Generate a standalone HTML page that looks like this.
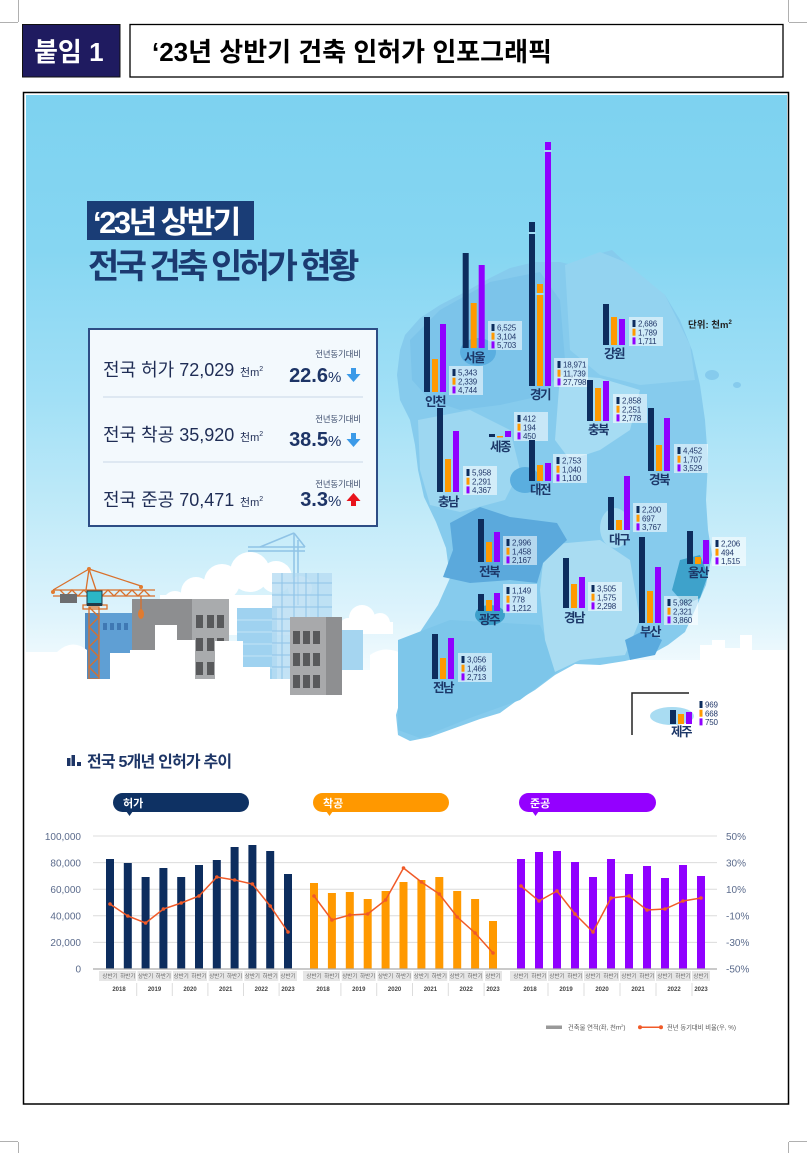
<!DOCTYPE html>
<html><head><meta charset="utf-8">
<style>
html,body{margin:0;padding:0;background:#fff;}
body{width:807px;height:1153px;overflow:hidden;}
svg{display:block;}
text{font-family:"Liberation Sans","Noto Sans CJK KR",sans-serif;}
.n{fill:#0d2d5e}.o{fill:#ff9900}.p{fill:#9000ff}
.mv{font-size:8px;fill:#22386a;letter-spacing:-0.2px}
.rn{font-size:12.5px;font-weight:700;fill:#1c3768;letter-spacing:-1.5px;text-anchor:middle}
.ax{font-size:10px;fill:#5b6b8c}
.hl{font-size:5.5px;fill:#666;text-anchor:middle}
.yr{font-size:6px;font-weight:700;fill:#444;text-anchor:middle}
</style></head>
<body>
<svg width="807" height="1153" viewBox="0 0 807 1153" xmlns="http://www.w3.org/2000/svg">
<defs>
<linearGradient id="bg" gradientUnits="userSpaceOnUse" x1="0" y1="95" x2="0" y2="1102">
<stop offset="0" stop-color="#7dd2f0"/>
<stop offset="0.154" stop-color="#86d6f2"/>
<stop offset="0.303" stop-color="#a2e0f6"/>
<stop offset="0.422" stop-color="#c3ebf9"/>
<stop offset="0.521" stop-color="#dff4fc"/>
<stop offset="0.6" stop-color="#ffffff"/>
<stop offset="1" stop-color="#ffffff"/>
</linearGradient>
<clipPath id="ic"><rect x="26" y="95" width="761" height="1007"/></clipPath>
</defs>

<!-- corner marks -->
<g stroke="#b0b0b0" stroke-width="1">
<line x1="18.5" y1="0" x2="18.5" y2="22"/><line x1="0" y1="22.5" x2="18" y2="22.5"/>
<line x1="788.5" y1="0" x2="788.5" y2="22"/><line x1="789" y1="22.5" x2="807" y2="22.5"/>
<line x1="18.5" y1="1142" x2="18.5" y2="1153"/><line x1="0" y1="1141.5" x2="18" y2="1141.5"/>
<line x1="788.5" y1="1142" x2="788.5" y2="1153"/><line x1="789" y1="1141.5" x2="807" y2="1141.5"/>
</g>

<!-- header -->
<rect x="22.5" y="24.5" width="97.5" height="52.5" fill="#1f1b60" stroke="#111" stroke-width="1"/>
<text x="34" y="61" font-size="26" font-weight="700" fill="#fff">붙임 1</text>
<rect x="130" y="24.5" width="653" height="52.5" fill="#fff" stroke="#000" stroke-width="1.3"/>
<text x="152" y="61" font-size="26" font-weight="700" fill="#000">‘23년 상반기 건축 인허가 인포그래픽</text>

<!-- frame -->
<rect x="23.5" y="92.5" width="765" height="1011.5" fill="#fff" stroke="#000" stroke-width="1.5"/>

<g clip-path="url(#ic)">
<rect x="26" y="95" width="761" height="1007" fill="url(#bg)"/>

<!-- title -->
<rect x="87" y="201" width="167" height="39" fill="#1a3d76"/>
<text x="93" y="233" font-size="31" font-weight="700" fill="#fff" letter-spacing="-2.5">‘23년 상반기</text>
<text x="88" y="278" font-size="34" font-weight="700" fill="#1b3a70" letter-spacing="-3.5">전국 건축 인허가 현황</text>

<!-- stats box -->
<rect x="89" y="329" width="288" height="197" fill="#f3f9fd" stroke="#2d4d85" stroke-width="2"/>
<line x1="103" y1="397" x2="363" y2="397" stroke="#c8d6e6" stroke-width="1"/>
<line x1="103" y1="462" x2="363" y2="462" stroke="#c8d6e6" stroke-width="1"/>
<g fill="#1f2d55">
<text x="103" y="376" font-size="18">전국 허가 72,029</text>
<text x="240" y="376" font-size="11">천m<tspan font-size="7" dy="-5">2</tspan></text>
<text x="103" y="441" font-size="18">전국 착공 35,920</text>
<text x="240" y="441" font-size="11">천m<tspan font-size="7" dy="-5">2</tspan></text>
<text x="103" y="506" font-size="18">전국 준공 70,471</text>
<text x="240" y="506" font-size="11">천m<tspan font-size="7" dy="-5">2</tspan></text>
</g>
<g font-size="8.3" fill="#3a4a6a" text-anchor="end">
<text x="361" y="357">전년동기대비</text>
<text x="361" y="422">전년동기대비</text>
<text x="361" y="487">전년동기대비</text>
</g>
<g fill="#1d3466">
<text x="328" y="382" font-size="20" font-weight="700" text-anchor="end">22.6</text><text x="328" y="382" font-size="15">%</text>
<text x="328" y="446" font-size="20" font-weight="700" text-anchor="end">38.5</text><text x="328" y="446" font-size="15">%</text>
<text x="328" y="506" font-size="20" font-weight="700" text-anchor="end">3.3</text><text x="328" y="506" font-size="15">%</text>
</g>
<g fill="#3b9ae8">
<rect x="351" y="368" width="5" height="7"/><polygon points="346.5,374 360.5,374 353.5,382"/>
<rect x="351" y="433" width="5" height="7"/><polygon points="346.5,439 360.5,439 353.5,447"/>
</g>
<g fill="#e8141c">
<polygon points="353.5,493 346.5,501 360.5,501"/><rect x="351" y="500" width="5" height="6"/>
</g>

<!-- cityscape background clouds -->
<g fill="#fff">
<circle cx="175" cy="603" r="12"/><circle cx="196" cy="592" r="15"/><circle cx="222" cy="582" r="18"/>
<circle cx="250" cy="572" r="20"/><circle cx="276" cy="577" r="16"/><circle cx="300" cy="588" r="12"/>
<rect x="160" y="595" width="150" height="40"/>
<circle cx="362" cy="618" r="13"/><circle cx="380" cy="623" r="10"/><circle cx="348" cy="626" r="8"/>
<rect x="340" y="622" width="53" height="12"/>
</g>
<!-- crane 2 -->
<g stroke="#8fc3e6" stroke-width="1.5" fill="none">
<line x1="294" y1="533" x2="294" y2="605"/><line x1="298" y1="540" x2="298" y2="605"/>
<line x1="248" y1="547" x2="305" y2="547"/><line x1="248" y1="551" x2="305" y2="551"/>
<line x1="294" y1="533" x2="260" y2="547"/><line x1="294" y1="533" x2="305" y2="547"/>
</g>
<!-- light buildings -->
<rect x="237" y="608" width="40" height="82" fill="#9fd2f0"/>
<g stroke="#c3e4f6" stroke-width="1"><line x1="237" y1="620" x2="277" y2="620"/><line x1="237" y1="632" x2="277" y2="632"/><line x1="237" y1="644" x2="277" y2="644"/><line x1="237" y1="656" x2="277" y2="656"/><line x1="237" y1="668" x2="277" y2="668"/></g>
<rect x="272" y="573" width="60" height="117" fill="#b7dcf3" fill-opacity="0.8"/>
<g stroke="#8ec3e8" stroke-width="1">
<line x1="272" y1="583" x2="332" y2="583"/><line x1="272" y1="595" x2="332" y2="595"/><line x1="272" y1="607" x2="332" y2="607"/><line x1="272" y1="619" x2="332" y2="619"/><line x1="272" y1="631" x2="332" y2="631"/><line x1="272" y1="643" x2="332" y2="643"/><line x1="272" y1="655" x2="332" y2="655"/><line x1="272" y1="667" x2="332" y2="667"/>
<line x1="282" y1="573" x2="282" y2="690"/><line x1="294" y1="573" x2="294" y2="690"/><line x1="306" y1="573" x2="306" y2="690"/><line x1="318" y1="573" x2="318" y2="690"/>
</g>
<rect x="342" y="630" width="21" height="60" fill="#a5d5f0"/>
<!-- blue building -->
<rect x="85" y="613" width="48" height="72" fill="#5f9fd4"/>
<rect x="85" y="613" width="14" height="72" fill="#4f8cc4"/>
<g fill="#3f78b3"><rect x="103" y="623" width="4" height="7"/><rect x="110" y="623" width="4" height="7"/><rect x="117" y="623" width="4" height="7"/><rect x="124" y="623" width="4" height="7"/></g>
<!-- gray building 1 -->
<rect x="132" y="599" width="60" height="80" fill="#8d8e90"/>
<rect x="192" y="599" width="37" height="80" fill="#a9abad"/>
<g fill="#58595b">
<rect x="196" y="615" width="7" height="13"/><rect x="207" y="615" width="7" height="13"/><rect x="217" y="615" width="7" height="13"/>
<rect x="196" y="638" width="7" height="13"/><rect x="207" y="638" width="7" height="13"/><rect x="217" y="638" width="7" height="13"/>
<rect x="196" y="662" width="7" height="13"/><rect x="207" y="662" width="7" height="13"/>
</g>
<!-- gray building 2 -->
<rect x="290" y="617" width="36" height="78" fill="#a8a9ab"/>
<rect x="326" y="617" width="16" height="78" fill="#8e8f91"/>
<g fill="#58595b">
<rect x="293" y="631" width="7" height="13"/><rect x="303" y="631" width="7" height="13"/><rect x="313" y="631" width="7" height="13"/>
<rect x="293" y="653" width="7" height="13"/><rect x="303" y="653" width="7" height="13"/><rect x="313" y="653" width="7" height="13"/>
<rect x="293" y="675" width="7" height="13"/><rect x="303" y="675" width="7" height="13"/><rect x="313" y="675" width="7" height="13"/>
</g>
<!-- crane 1 -->
<g stroke="#d9702b" stroke-width="1.3" fill="none">
<rect x="89" y="607" width="10" height="72"/>
<polyline points="89,607 99,617 89,627 99,637 89,647 99,657 89,667 99,677"/>
<line x1="53" y1="590" x2="155" y2="590"/><line x1="53" y1="596" x2="155" y2="596"/>
<polyline points="60,590 66,596 72,590 78,596 84,590 90,596 96,590 102,596 108,590 114,596 120,590 126,596 132,590 138,596 144,590 150,596"/>
<line x1="89" y1="569" x2="53" y2="590"/><line x1="89" y1="569" x2="141" y2="586"/>
<line x1="89" y1="569" x2="86" y2="590"/><line x1="89" y1="569" x2="96" y2="590"/>
<rect x="83" y="605" width="24" height="4"/>
<line x1="141" y1="596" x2="141" y2="610"/>
</g>
<g fill="#e07b30"><circle cx="89" cy="569" r="2"/><circle cx="53" cy="592" r="2"/><circle cx="141" cy="587" r="2"/><ellipse cx="141" cy="614" rx="3" ry="5"/></g>
<rect x="60" y="594" width="17" height="9" fill="#6d6e70"/>
<rect x="87" y="591" width="15" height="14" fill="#2bb6c6" stroke="#1f3a4a" stroke-width="1"/>
<rect x="87" y="603" width="15" height="3" fill="#1f3a4a"/>

<!-- white foreground skyline -->
<path d="M26,652 L57,652 Q72,638 87,650 L87,679 L110,679 L110,653 L130,653 L130,650 L155,650 L155,625 L177,625 L177,640 L195,640 L195,679 L215,679 L215,641 L243,641 L243,667 L270,667 L270,679 L290,679 L290,697 L342,697 L342,670 L370,670 L370,655 Q385,644 405,655 L410,660 L700,660 L700,645 L712,645 L712,640 L725,640 L725,648 L740,648 L740,635 L752,635 L752,650 L787,650 L787,1102 L26,1102 Z" fill="#fff"/>

<!-- map land -->
<path d="M400,350 L405,335 L420,318 L440,305 L465,292 L490,278 L510,268 L535,262 L560,262 L585,268 L598,254 L612,250 L625,262 L645,280 L665,295 L680,320 L692,350 L700,385 L705,420 L708,460 L706,500 L708,530 L712,555 L706,585 L695,610 L685,632 L668,645 L650,655 L625,661 L600,665 L575,664 L555,675 L535,690 L515,702 L500,713 L480,719 L455,728 L430,737 L410,741 L398,735 L396,715 L403,690 L405,660 L420,632 L438,605 L450,578 L446,548 L436,522 L424,497 L418,470 L415,445 L410,420 L400,400 L397,375 Z" fill="#86cbed"/>
<path d="M410,340 L440,310 L490,282 L540,272 L560,300 L565,360 L545,395 L500,405 L460,410 L430,400 L412,380 Z" fill="#7cc4ea"/>
<path d="M565,265 L600,252 L625,262 L665,295 L690,345 L695,380 L640,385 L600,375 L570,350 Z" fill="#93d3f0"/>
<path d="M560,375 L600,378 L640,390 L630,430 L600,450 L570,460 L555,440 Z" fill="#a6dcf3"/>
<path d="M418,420 L470,410 L510,430 L520,470 L505,500 L460,512 L430,505 L420,470 Z" fill="#9dd7f1"/>
<path d="M398,640 L450,620 L540,625 L560,670 L520,700 L470,718 L420,738 L398,730 Z" fill="#7dc6ea"/>
<path d="M545,545 L600,540 L630,560 L640,620 L625,655 L580,660 L555,672 L545,640 L540,590 Z" fill="#a9dcf2"/>
<path d="M450,523 L480,507 L510,517 L557,523 L567,540 L543,563 L537,583 L510,580 L470,583 L443,577 L453,550 Z" fill="#5ba9dc"/>
<ellipse cx="478" cy="352" rx="18" ry="14" fill="#5aaee0"/>
<ellipse cx="525" cy="480" rx="15" ry="13" fill="#5aaedf"/>
<ellipse cx="615" cy="528" rx="15" ry="20" fill="#a7dcf2"/>
<ellipse cx="490" cy="615" rx="15" ry="10" fill="#3c9fca"/>
<path d="M680,560 L700,555 L708,575 L700,598 L685,605 L672,590 Z" fill="#3ea2cb"/>
<path d="M625,640 L645,630 L662,640 L655,655 L630,660 Z" fill="#5aaade"/>
<ellipse cx="712" cy="375" rx="7" ry="5" fill="#86cbed"/>
<ellipse cx="737" cy="385" rx="4" ry="3" fill="#86cbed"/>
<ellipse cx="672" cy="716" rx="22" ry="9" fill="#a9dcf2"/>
<polyline points="689,693 632,693 632,735" fill="none" stroke="#222" stroke-width="1.5"/>

<text x="688" y="328" font-size="9.5" font-weight="700" fill="#222">단위: 천m<tspan font-size="6" dy="-4">2</tspan></text>

<!-- regional bars -->
<!-- 서울 -->
<rect class="n" x="462.7" y="253" width="6" height="95"/><rect class="o" x="470.7" y="303" width="6" height="45"/><rect class="p" x="478.7" y="265" width="6" height="83"/>
<g transform="translate(488,321)"><rect width="34" height="29" fill="#fff" fill-opacity=".55"/><rect class="n" x="3.5" y="3" width="3" height="7"/><rect class="o" x="3.5" y="11.7" width="3" height="7"/><rect class="p" x="3.5" y="20.4" width="3" height="7"/><text class="mv" x="9" y="9.6">6,525</text><text class="mv" x="9" y="18.3">3,104</text><text class="mv" x="9" y="27">5,703</text></g>
<text class="rn" x="474" y="362">서울</text>
<!-- 인천 -->
<rect class="n" x="424" y="317" width="6" height="75"/><rect class="o" x="432" y="359" width="6" height="33"/><rect class="p" x="440" y="324" width="6" height="68"/>
<g transform="translate(449,366)"><rect width="34" height="29" fill="#fff" fill-opacity=".55"/><rect class="n" x="3.5" y="3" width="3" height="7"/><rect class="o" x="3.5" y="11.7" width="3" height="7"/><rect class="p" x="3.5" y="20.4" width="3" height="7"/><text class="mv" x="9" y="9.6">5,343</text><text class="mv" x="9" y="18.3">2,339</text><text class="mv" x="9" y="27">4,744</text></g>
<text class="rn" x="435" y="406">인천</text>
<!-- 경기 -->
<rect class="n" x="529" y="222" width="6" height="164"/><rect class="o" x="537" y="284" width="6" height="102"/><rect class="p" x="545" y="142" width="6" height="244"/>
<rect x="528" y="232" width="8" height="2" fill="#9fdcf4"/><rect x="536" y="293" width="8" height="2" fill="#9fdcf4"/><rect x="544" y="150" width="8" height="2" fill="#9fdcf4"/>
<g transform="translate(554,358)"><rect width="34" height="29" fill="#fff" fill-opacity=".55"/><rect class="n" x="3.5" y="3" width="3" height="7"/><rect class="o" x="3.5" y="11.7" width="3" height="7"/><rect class="p" x="3.5" y="20.4" width="3" height="7"/><text class="mv" x="9" y="9.6">18,971</text><text class="mv" x="9" y="18.3">11,739</text><text class="mv" x="9" y="27">27,798</text></g>
<text class="rn" x="540" y="399">경기</text>
<!-- 강원 -->
<rect class="n" x="603" y="304" width="6" height="41"/><rect class="o" x="611" y="317" width="6" height="28"/><rect class="p" x="619" y="319" width="6" height="26"/>
<g transform="translate(629,317)"><rect width="34" height="29" fill="#fff" fill-opacity=".55"/><rect class="n" x="3.5" y="3" width="3" height="7"/><rect class="o" x="3.5" y="11.7" width="3" height="7"/><rect class="p" x="3.5" y="20.4" width="3" height="7"/><text class="mv" x="9" y="9.6">2,686</text><text class="mv" x="9" y="18.3">1,789</text><text class="mv" x="9" y="27">1,711</text></g>
<text class="rn" x="614" y="358">강원</text>
<!-- 충북 -->
<rect class="n" x="587" y="380" width="6" height="41"/><rect class="o" x="595" y="388" width="6" height="33"/><rect class="p" x="603" y="381" width="6" height="40"/>
<g transform="translate(613,394)"><rect width="34" height="29" fill="#fff" fill-opacity=".55"/><rect class="n" x="3.5" y="3" width="3" height="7"/><rect class="o" x="3.5" y="11.7" width="3" height="7"/><rect class="p" x="3.5" y="20.4" width="3" height="7"/><text class="mv" x="9" y="9.6">2,858</text><text class="mv" x="9" y="18.3">2,251</text><text class="mv" x="9" y="27">2,778</text></g>
<text class="rn" x="598" y="434">충북</text>
<!-- 세종 -->
<rect class="n" x="489" y="434" width="6" height="3"/><rect class="o" x="497" y="436" width="6" height="1.5"/><rect class="p" x="505" y="431" width="6" height="6"/>
<g transform="translate(514,412)"><rect width="34" height="29" fill="#fff" fill-opacity=".55"/><rect class="n" x="3.5" y="3" width="3" height="7"/><rect class="o" x="3.5" y="11.7" width="3" height="7"/><rect class="p" x="3.5" y="20.4" width="3" height="7"/><text class="mv" x="9" y="9.6">412</text><text class="mv" x="9" y="18.3">194</text><text class="mv" x="9" y="27">450</text></g>
<text class="rn" x="500" y="451">세종</text>
<!-- 대전 -->
<rect class="n" x="529" y="440" width="6" height="41"/><rect class="o" x="537" y="465" width="6" height="16"/><rect class="p" x="545" y="463" width="6" height="18"/>
<g transform="translate(553,454)"><rect width="34" height="29" fill="#fff" fill-opacity=".55"/><rect class="n" x="3.5" y="3" width="3" height="7"/><rect class="o" x="3.5" y="11.7" width="3" height="7"/><rect class="p" x="3.5" y="20.4" width="3" height="7"/><text class="mv" x="9" y="9.6">2,753</text><text class="mv" x="9" y="18.3">1,040</text><text class="mv" x="9" y="27">1,100</text></g>
<text class="rn" x="540" y="494">대전</text>
<!-- 충남 -->
<rect class="n" x="437" y="408" width="6" height="84"/><rect class="o" x="445" y="459" width="6" height="33"/><rect class="p" x="453" y="431" width="6" height="61"/>
<g transform="translate(463,466)"><rect width="34" height="29" fill="#fff" fill-opacity=".55"/><rect class="n" x="3.5" y="3" width="3" height="7"/><rect class="o" x="3.5" y="11.7" width="3" height="7"/><rect class="p" x="3.5" y="20.4" width="3" height="7"/><text class="mv" x="9" y="9.6">5,958</text><text class="mv" x="9" y="18.3">2,291</text><text class="mv" x="9" y="27">4,367</text></g>
<text class="rn" x="448" y="506">충남</text>
<!-- 경북 -->
<rect class="n" x="648" y="408" width="6" height="63"/><rect class="o" x="656" y="445" width="6" height="26"/><rect class="p" x="664" y="418" width="6" height="53"/>
<g transform="translate(674,444)"><rect width="34" height="29" fill="#fff" fill-opacity=".55"/><rect class="n" x="3.5" y="3" width="3" height="7"/><rect class="o" x="3.5" y="11.7" width="3" height="7"/><rect class="p" x="3.5" y="20.4" width="3" height="7"/><text class="mv" x="9" y="9.6">4,452</text><text class="mv" x="9" y="18.3">1,707</text><text class="mv" x="9" y="27">3,529</text></g>
<text class="rn" x="659" y="484">경북</text>
<!-- 대구 -->
<rect class="n" x="608" y="497" width="6" height="33"/><rect class="o" x="616" y="520" width="6" height="10"/><rect class="p" x="624" y="476" width="6" height="54"/>
<g transform="translate(633,503)"><rect width="34" height="29" fill="#fff" fill-opacity=".55"/><rect class="n" x="3.5" y="3" width="3" height="7"/><rect class="o" x="3.5" y="11.7" width="3" height="7"/><rect class="p" x="3.5" y="20.4" width="3" height="7"/><text class="mv" x="9" y="9.6">2,200</text><text class="mv" x="9" y="18.3">697</text><text class="mv" x="9" y="27">3,767</text></g>
<text class="rn" x="619" y="544">대구</text>
<!-- 전북 -->
<rect class="n" x="478" y="519" width="6" height="43"/><rect class="o" x="486" y="542" width="6" height="20"/><rect class="p" x="494" y="532" width="6" height="30"/>
<g transform="translate(503,536)"><rect width="34" height="29" fill="#fff" fill-opacity=".55"/><rect class="n" x="3.5" y="3" width="3" height="7"/><rect class="o" x="3.5" y="11.7" width="3" height="7"/><rect class="p" x="3.5" y="20.4" width="3" height="7"/><text class="mv" x="9" y="9.6">2,996</text><text class="mv" x="9" y="18.3">1,458</text><text class="mv" x="9" y="27">2,167</text></g>
<text class="rn" x="489" y="576">전북</text>
<!-- 울산 -->
<rect class="n" x="687" y="531" width="6" height="33"/><rect class="o" x="695" y="557" width="6" height="7"/><rect class="p" x="703" y="540" width="6" height="24"/>
<g transform="translate(712,537)"><rect width="34" height="29" fill="#fff" fill-opacity=".55"/><rect class="n" x="3.5" y="3" width="3" height="7"/><rect class="o" x="3.5" y="11.7" width="3" height="7"/><rect class="p" x="3.5" y="20.4" width="3" height="7"/><text class="mv" x="9" y="9.6">2,206</text><text class="mv" x="9" y="18.3">494</text><text class="mv" x="9" y="27">1,515</text></g>
<text class="rn" x="698" y="577">울산</text>
<!-- 광주 -->
<rect class="n" x="478" y="594" width="6" height="17"/><rect class="o" x="486" y="600" width="6" height="11"/><rect class="p" x="494" y="593" width="6" height="18"/>
<g transform="translate(503,584)"><rect width="34" height="29" fill="#fff" fill-opacity=".55"/><rect class="n" x="3.5" y="3" width="3" height="7"/><rect class="o" x="3.5" y="11.7" width="3" height="7"/><rect class="p" x="3.5" y="20.4" width="3" height="7"/><text class="mv" x="9" y="9.6">1,149</text><text class="mv" x="9" y="18.3">778</text><text class="mv" x="9" y="27">1,212</text></g>
<text class="rn" x="489" y="624">광주</text>
<!-- 경남 -->
<rect class="n" x="563" y="558" width="6" height="50"/><rect class="o" x="571" y="584" width="6" height="24"/><rect class="p" x="579" y="577" width="6" height="31"/>
<g transform="translate(588,582)"><rect width="34" height="29" fill="#fff" fill-opacity=".55"/><rect class="n" x="3.5" y="3" width="3" height="7"/><rect class="o" x="3.5" y="11.7" width="3" height="7"/><rect class="p" x="3.5" y="20.4" width="3" height="7"/><text class="mv" x="9" y="9.6">3,505</text><text class="mv" x="9" y="18.3">1,575</text><text class="mv" x="9" y="27">2,298</text></g>
<text class="rn" x="574" y="622">경남</text>
<!-- 부산 -->
<rect class="n" x="639" y="537" width="6" height="86"/><rect class="o" x="647" y="591" width="6" height="32"/><rect class="p" x="655" y="567" width="6" height="56"/>
<g transform="translate(664,596)"><rect width="34" height="29" fill="#fff" fill-opacity=".55"/><rect class="n" x="3.5" y="3" width="3" height="7"/><rect class="o" x="3.5" y="11.7" width="3" height="7"/><rect class="p" x="3.5" y="20.4" width="3" height="7"/><text class="mv" x="9" y="9.6">5,982</text><text class="mv" x="9" y="18.3">2,321</text><text class="mv" x="9" y="27">3,860</text></g>
<text class="rn" x="650" y="636">부산</text>
<!-- 전남 -->
<rect class="n" x="432" y="634" width="6" height="45"/><rect class="o" x="440" y="658" width="6" height="21"/><rect class="p" x="448" y="638" width="6" height="41"/>
<g transform="translate(458,653)"><rect width="34" height="29" fill="#fff" fill-opacity=".55"/><rect class="n" x="3.5" y="3" width="3" height="7"/><rect class="o" x="3.5" y="11.7" width="3" height="7"/><rect class="p" x="3.5" y="20.4" width="3" height="7"/><text class="mv" x="9" y="9.6">3,056</text><text class="mv" x="9" y="18.3">1,466</text><text class="mv" x="9" y="27">2,713</text></g>
<text class="rn" x="443" y="692">전남</text>
<!-- 제주 -->
<rect class="n" x="670" y="710" width="6" height="14"/><rect class="o" x="678" y="714" width="6" height="10"/><rect class="p" x="686" y="712" width="6" height="12"/>
<g transform="translate(696,698)"><rect class="n" x="3.5" y="3" width="3" height="7"/><rect class="o" x="3.5" y="11.7" width="3" height="7"/><rect class="p" x="3.5" y="20.4" width="3" height="7"/><text class="mv" x="9" y="9.6">969</text><text class="mv" x="9" y="18.3">668</text><text class="mv" x="9" y="27">750</text></g>
<text class="rn" x="681" y="736">제주</text>

<!-- section title -->
<g fill="#1d3566"><rect x="67" y="758" width="3.5" height="8"/><rect x="71.5" y="755" width="3.5" height="11"/><rect x="77" y="762" width="4" height="4"/></g>
<text x="87" y="767" font-size="16" font-weight="700" fill="#1d3566" letter-spacing="-0.8">전국 5개년 인허가 추이</text>

<!-- pills -->
<rect x="113" y="793" width="136" height="19" rx="9.5" fill="#0e3163"/><polygon points="126,811 133,811 129.5,816" fill="#0e3163"/>
<text x="123" y="807" font-size="11" font-weight="700" fill="#fff">허가</text>
<rect x="313" y="793" width="136" height="19" rx="9.5" fill="#ff9800"/><polygon points="326,811 333,811 329.5,816" fill="#ff9800"/>
<text x="323" y="807" font-size="11" font-weight="700" fill="#fff">착공</text>
<rect x="519" y="793" width="137" height="19" rx="9.5" fill="#9400ff"/><polygon points="532,811 539,811 535.5,816" fill="#9400ff"/>
<text x="530" y="807" font-size="11" font-weight="700" fill="#fff">준공</text>

<!-- grid -->
<g stroke="#dcdcdc" stroke-width="1">
<line x1="93" y1="836" x2="717" y2="836"/><line x1="93" y1="862.6" x2="717" y2="862.6"/><line x1="93" y1="889.2" x2="717" y2="889.2"/><line x1="93" y1="915.8" x2="717" y2="915.8"/><line x1="93" y1="942.4" x2="717" y2="942.4"/>
</g>
<g class="ax" text-anchor="end">
<text class="ax" x="81" y="840">100,000</text><text class="ax" x="81" y="866.5">80,000</text><text class="ax" x="81" y="893">60,000</text><text class="ax" x="81" y="919.5">40,000</text><text class="ax" x="81" y="946">20,000</text><text class="ax" x="81" y="972.5">0</text>
</g>
<g>
<text class="ax" x="726" y="840">50%</text><text class="ax" x="726" y="866.5">30%</text><text class="ax" x="726" y="893">10%</text><text class="ax" x="726" y="919.5">-10%</text><text class="ax" x="726" y="946">-30%</text><text class="ax" x="726" y="972.5">-50%</text>
</g>

<!-- navy bars -->
<g class="n">
<rect x="106" y="859" width="8" height="110"/><rect x="123.8" y="863" width="8" height="106"/><rect x="141.6" y="877" width="8" height="92"/><rect x="159.4" y="868" width="8" height="101"/><rect x="177.2" y="877" width="8" height="92"/><rect x="195" y="865" width="8" height="104"/><rect x="212.8" y="860" width="8" height="109"/><rect x="230.6" y="847" width="8" height="122"/><rect x="248.4" y="845" width="8" height="124"/><rect x="266.2" y="851" width="8" height="118"/><rect x="284" y="874" width="8" height="95"/>
</g>
<!-- orange bars -->
<g class="o">
<rect x="310" y="883" width="8" height="86"/><rect x="327.9" y="893" width="8" height="76"/><rect x="345.8" y="892" width="8" height="77"/><rect x="363.7" y="899" width="8" height="70"/><rect x="381.6" y="891" width="8" height="78"/><rect x="399.5" y="882" width="8" height="87"/><rect x="417.4" y="880" width="8" height="89"/><rect x="435.3" y="877" width="8" height="92"/><rect x="453.2" y="891" width="8" height="78"/><rect x="471.1" y="899" width="8" height="70"/><rect x="489" y="921" width="8" height="48"/>
</g>
<!-- purple bars -->
<g class="p">
<rect x="517" y="859" width="8" height="110"/><rect x="535" y="852" width="8" height="117"/><rect x="553" y="851" width="8" height="118"/><rect x="571" y="862" width="8" height="107"/><rect x="589" y="877" width="8" height="92"/><rect x="607" y="859" width="8" height="110"/><rect x="625" y="874" width="8" height="95"/><rect x="643" y="866" width="8" height="103"/><rect x="661" y="878" width="8" height="91"/><rect x="679" y="865" width="8" height="104"/><rect x="697" y="876" width="8" height="93"/>
</g>
<line x1="93" y1="969" x2="717" y2="969" stroke="#aaa" stroke-width="1.2"/>

<!-- lines -->
<g fill="none" stroke="#f05a28" stroke-width="1.5">
<polyline points="110,904 127.8,916 145.6,923 163.4,909 181.2,903 199,896 216.8,877 234.6,880 252.4,884 270.2,906 288,932"/>
<polyline points="314,896 331.9,920 349.8,915 367.7,914 385.6,900 403.5,868 421.4,882 439.3,894 457.2,917 475.1,933 493,953"/>
<polyline points="521,886 539,901 557,891 575,914 593,932 611,898 629,896 647,910 665,909 683,901 701,898"/>
</g>
<g fill="#f05a28">
<circle cx="110" cy="904" r="1.8"/><circle cx="127.8" cy="916" r="1.8"/><circle cx="145.6" cy="923" r="1.8"/><circle cx="163.4" cy="909" r="1.8"/><circle cx="181.2" cy="903" r="1.8"/><circle cx="199" cy="896" r="1.8"/><circle cx="216.8" cy="877" r="1.8"/><circle cx="234.6" cy="880" r="1.8"/><circle cx="252.4" cy="884" r="1.8"/><circle cx="270.2" cy="906" r="1.8"/><circle cx="288" cy="932" r="1.8"/>
<circle cx="314" cy="896" r="1.8"/><circle cx="331.9" cy="920" r="1.8"/><circle cx="349.8" cy="915" r="1.8"/><circle cx="367.7" cy="914" r="1.8"/><circle cx="385.6" cy="900" r="1.8"/><circle cx="403.5" cy="868" r="1.8"/><circle cx="421.4" cy="882" r="1.8"/><circle cx="439.3" cy="894" r="1.8"/><circle cx="457.2" cy="917" r="1.8"/><circle cx="475.1" cy="933" r="1.8"/><circle cx="493" cy="953" r="1.8"/>
<circle cx="521" cy="886" r="1.8"/><circle cx="539" cy="901" r="1.8"/><circle cx="557" cy="891" r="1.8"/><circle cx="575" cy="914" r="1.8"/><circle cx="593" cy="932" r="1.8"/><circle cx="611" cy="898" r="1.8"/><circle cx="629" cy="896" r="1.8"/><circle cx="647" cy="910" r="1.8"/><circle cx="665" cy="909" r="1.8"/><circle cx="683" cy="901" r="1.8"/><circle cx="701" cy="898" r="1.8"/>
</g>

<!-- x label bands -->
<g fill="#e6e6e6">
<rect x="99" y="971" width="37" height="10"/><rect x="137.5" y="971" width="34" height="10"/><rect x="173" y="971" width="34" height="10"/><rect x="208.7" y="971" width="34" height="10"/><rect x="244.3" y="971" width="34" height="10"/><rect x="280" y="971" width="17" height="10"/>
<rect x="303" y="971" width="37" height="10"/><rect x="341.7" y="971" width="34" height="10"/><rect x="377.5" y="971" width="34" height="10"/><rect x="413.3" y="971" width="34" height="10"/><rect x="449.1" y="971" width="34" height="10"/><rect x="485" y="971" width="17" height="10"/>
<rect x="510" y="971" width="37" height="10"/><rect x="548" y="971" width="35" height="10"/><rect x="584" y="971" width="35" height="10"/><rect x="620" y="971" width="35" height="10"/><rect x="656" y="971" width="35" height="10"/><rect x="692" y="971" width="18" height="10"/>
</g>
<g stroke="#dcdcdc" stroke-width="1">
<line x1="136.7" y1="983" x2="136.7" y2="996"/><line x1="172.3" y1="983" x2="172.3" y2="996"/><line x1="207.9" y1="983" x2="207.9" y2="996"/><line x1="243.5" y1="983" x2="243.5" y2="996"/><line x1="279.1" y1="983" x2="279.1" y2="996"/>
<line x1="340.9" y1="983" x2="340.9" y2="996"/><line x1="376.7" y1="983" x2="376.7" y2="996"/><line x1="412.5" y1="983" x2="412.5" y2="996"/><line x1="448.3" y1="983" x2="448.3" y2="996"/><line x1="484.1" y1="983" x2="484.1" y2="996"/>
<line x1="548" y1="983" x2="548" y2="996"/><line x1="584" y1="983" x2="584" y2="996"/><line x1="620" y1="983" x2="620" y2="996"/><line x1="656" y1="983" x2="656" y2="996"/><line x1="692" y1="983" x2="692" y2="996"/>
</g>
<g>
<text class="hl" x="110" y="978">상반기</text><text class="hl" x="127.8" y="978">하반기</text><text class="hl" x="145.6" y="978">상반기</text><text class="hl" x="163.4" y="978">하반기</text><text class="hl" x="181.2" y="978">상반기</text><text class="hl" x="199" y="978">하반기</text><text class="hl" x="216.8" y="978">상반기</text><text class="hl" x="234.6" y="978">하반기</text><text class="hl" x="252.4" y="978">상반기</text><text class="hl" x="270.2" y="978">하반기</text><text class="hl" x="288" y="978">상반기</text>
<text class="hl" x="314" y="978">상반기</text><text class="hl" x="331.9" y="978">하반기</text><text class="hl" x="349.8" y="978">상반기</text><text class="hl" x="367.7" y="978">하반기</text><text class="hl" x="385.6" y="978">상반기</text><text class="hl" x="403.5" y="978">하반기</text><text class="hl" x="421.4" y="978">상반기</text><text class="hl" x="439.3" y="978">하반기</text><text class="hl" x="457.2" y="978">상반기</text><text class="hl" x="475.1" y="978">하반기</text><text class="hl" x="493" y="978">상반기</text>
<text class="hl" x="521" y="978">상반기</text><text class="hl" x="539" y="978">하반기</text><text class="hl" x="557" y="978">상반기</text><text class="hl" x="575" y="978">하반기</text><text class="hl" x="593" y="978">상반기</text><text class="hl" x="611" y="978">하반기</text><text class="hl" x="629" y="978">상반기</text><text class="hl" x="647" y="978">하반기</text><text class="hl" x="665" y="978">상반기</text><text class="hl" x="683" y="978">하반기</text><text class="hl" x="701" y="978">상반기</text>
</g>
<g>
<text class="yr" x="119" y="991">2018</text><text class="yr" x="154.5" y="991">2019</text><text class="yr" x="190" y="991">2020</text><text class="yr" x="225.7" y="991">2021</text><text class="yr" x="261.3" y="991">2022</text><text class="yr" x="288" y="991">2023</text>
<text class="yr" x="323" y="991">2018</text><text class="yr" x="358.8" y="991">2019</text><text class="yr" x="394.6" y="991">2020</text><text class="yr" x="430.4" y="991">2021</text><text class="yr" x="466.2" y="991">2022</text><text class="yr" x="493" y="991">2023</text>
<text class="yr" x="530" y="991">2018</text><text class="yr" x="566" y="991">2019</text><text class="yr" x="602" y="991">2020</text><text class="yr" x="638" y="991">2021</text><text class="yr" x="674" y="991">2022</text><text class="yr" x="701" y="991">2023</text>
</g>

<!-- legend -->
<rect x="546" y="1025.5" width="16" height="3.5" fill="#999"/>
<text x="568" y="1029.5" font-size="6.3" fill="#555">건축물 연적(좌, 천m<tspan font-size="4" dy="-2.5">2</tspan><tspan dy="2.5">)</tspan></text>
<line x1="639" y1="1027.3" x2="662" y2="1027.3" stroke="#f05a28" stroke-width="1.5"/>
<circle cx="640" cy="1027.3" r="2" fill="#f05a28"/><circle cx="661" cy="1027.3" r="2" fill="#f05a28"/>
<text x="667" y="1029.5" font-size="6.3" fill="#555">전년 동기대비 비율(우, %)</text>
</g>
</svg>
</body></html>
